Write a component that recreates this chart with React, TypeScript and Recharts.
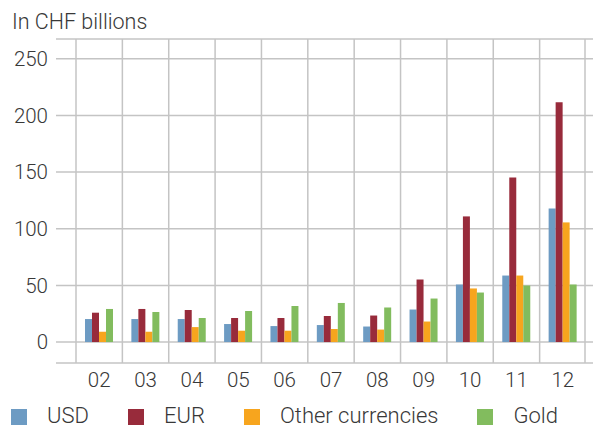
import { BarChart, Bar, XAxis, YAxis, CartesianGrid } from "recharts";

const years = ["02", "03", "04", "05", "06", "07", "08", "09", "10", "11", "12"];
const usd = [20.3, 20.3, 20.3, 15.9, 14.1, 15.0, 13.7, 28.7, 50.8, 58.7, 117.9];
const eur = [25.9, 29.2, 28.3, 21.2, 21.2, 23.0, 23.4, 55.2, 110.9, 145.3, 211.6];
const other = [9.1, 9.1, 13.2, 10.0, 10.0, 11.5, 11.0, 18.1, 47.3, 58.7, 105.6];
const gold = [29.2, 26.5, 21.2, 27.4, 31.8, 34.5, 30.5, 38.4, 43.7, 49.9, 50.8];
const yTicks = [0, 50, 100, 150, 200, 250];

const SERIES = [
  { key: "usd", name: "USD", color: "#6d9bc3" },
  { key: "eur", name: "EUR", color: "#982b3b" },
  { key: "other", name: "Other currencies", color: "#f7a51e" },
  { key: "gold", name: "Gold", color: "#82bc5e" },
];

const data = years.map((y, i) => ({
  year: y,
  usd: usd[i],
  eur: eur[i],
  other: other[i],
  gold: gold[i],
}));

const FONT = "Roboto, 'Liberation Sans', Arial, sans-serif";
const TEXT = "#383838";
const GRID = "#c4c4c4";

export default function App() {
  return (
    <div style={{ position: "relative", width: 593, height: 430, background: "#fff", fontFamily: FONT }}>
      <style>{`body{margin:0}`}</style>
      <div style={{
        position: "absolute", left: 12, top: 10, fontSize: 21.5, fontWeight: 300,
        color: TEXT, lineHeight: "24px", whiteSpace: "nowrap",
      }}>
        In CHF billions
      </div>
      <BarChart
        width={593}
        height={430}
        data={data}
        margin={{ top: 39, right: 7, left: 0, bottom: 0 }}
        barSize={7}
        barGap={0}
      >
        <CartesianGrid
          stroke={GRID}
          strokeWidth={1.5}
          horizontal={(p: any) => (
            <line key={`h-${p.index}`} x1={p.x1 - 20} x2={593} y1={p.y1} y2={p.y2}
              stroke={GRID} strokeWidth={1.5} />
          )}
          verticalCoordinatesGenerator={({ offset }: any) =>
            years.map((_, i) => offset.left + (i * offset.width) / years.length)
              .concat([offset.left + offset.width - 1])
          }
        />
        <XAxis
          dataKey="year"
          height={67}
          axisLine={false}
          tickLine={false}
          tickSize={0}
          tickMargin={9}
          interval={0}
          tick={{ fontSize: 20.5, fill: TEXT, fontWeight: 300, fontFamily: FONT }}
        />
        <YAxis
          width={76}
          domain={[-18.5, 267.5]}
          ticks={yTicks}
          allowDataOverflow
          axisLine={false}
          tickLine={false}
          tickSize={0}
          tickMargin={28}
          tick={{ fontSize: 20.5, fill: TEXT, fontWeight: 300, fontFamily: FONT }}
        />
        {SERIES.map((s) => (
          <Bar key={s.key} dataKey={s.key} name={s.name} fill={s.color} isAnimationActive={false} />
        ))}
      </BarChart>
      <div style={{
        position: "absolute", left: 11, top: 407, width: 580, display: "flex", alignItems: "flex-start",
        fontSize: 22, fontWeight: 300, color: TEXT, lineHeight: "18px", whiteSpace: "nowrap",
      }}>
        {SERIES.map((s, i) => (
          <div key={s.key} style={{
            display: "flex", alignItems: "flex-start", flexShrink: 0,
            marginRight: i < SERIES.length - 1 ? 39 : 0,
          }}>
            <span style={{ width: 16, height: 16, marginTop: 2, background: s.color, marginRight: 20, flexShrink: 0 }} />
            <span style={{ flexShrink: 0 }}>{s.name}</span>
          </div>
        ))}
      </div>
    </div>
  );
}
